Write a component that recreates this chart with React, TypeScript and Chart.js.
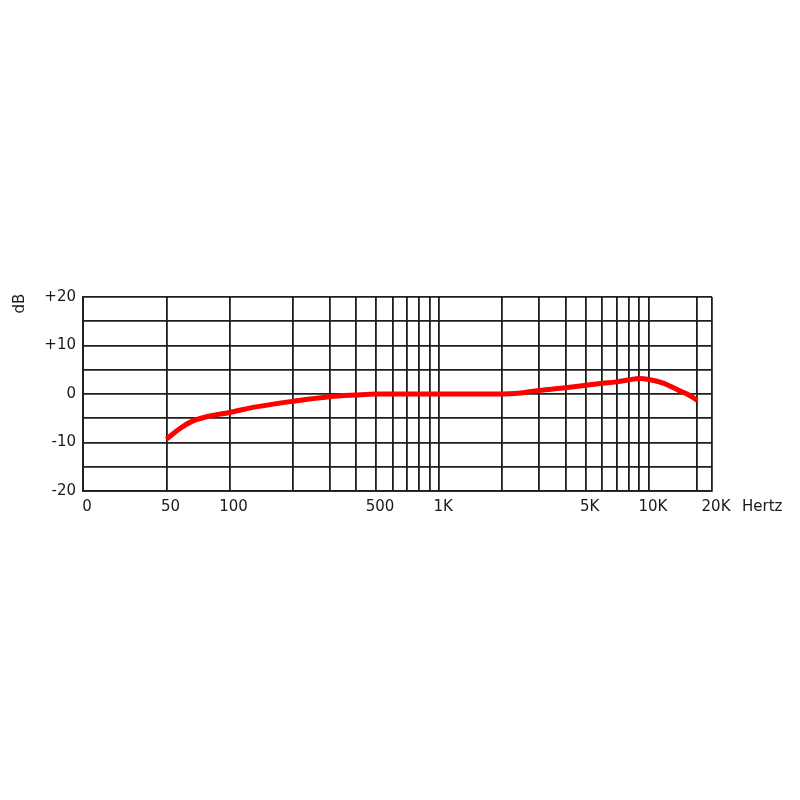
import React, { useEffect, useRef } from "react";
import { Chart, registerables } from "chart.js";

Chart.register(...registerables);

// Frequency response (Hz -> dB)
const freqs = [50, 58, 65, 76, 100, 136, 200, 300, 400, 500, 1000, 2000, 2300, 3000, 4000, 5000, 6000, 7000, 8000, 9000, 10000, 11800, 13800, 15500, 17000];
const dbValues = [-9.3, -7.1, -5.8, -4.8, -3.8, -2.6, -1.5, -0.55, -0.2, 0, 0, 0, 0.1, 0.75, 1.3, 1.8, 2.2, 2.5, 2.9, 3.2, 3.0, 2.2, 0.8, -0.2, -1.3];

// Vertical grid lines (Hz) and their labels
const xGridValues = [20, 50, 100, 200, 300, 400, 500, 600, 700, 800, 900, 1000, 2000, 3000, 4000, 5000, 6000, 7000, 8000, 9000, 10000, 17000, 20000];
const xLabelValues = [20, 50, 100, 500, 1000, 5000, 10000, 20000];
const xLabelTexts = ["0", "50", "100", "500", "1K", "5K", "10K", "20K"];

// Horizontal grid (dB)
const yLabelValues = [-20, -10, 0, 10, 20];
const yLabelTexts = ["-20", "-10", "0", "+10", "+20"];

const xUnit = "Hertz";
const yUnit = "dB";

const FONT = '"DejaVu Sans", sans-serif';
const TEXT = "#1a1a1a";
const GRID = "#1e1e1e";

export default function App() {
  const ref = useRef<HTMLCanvasElement | null>(null);

  useEffect(() => {
    if (!ref.current) return;
    const unitPlugin = {
      id: "units",
      afterDraw(chart: any) {
        const ctx = chart.ctx;
        const xs = chart.scales.x;
        ctx.save();
        ctx.fillStyle = TEXT;
        ctx.font = `15px ${FONT}`;
        ctx.textAlign = "left";
        ctx.textBaseline = "middle";
        ctx.fillText(xUnit, xs.getPixelForValue(20000) + 30, xs.top + 7 + 9);
        ctx.translate(20, 303.5);
        ctx.rotate(-Math.PI / 2);
        ctx.textAlign = "center";
        ctx.fillText(yUnit, 0, 0);
        ctx.restore();
      },
    };

    const chart = new Chart(ref.current, {
      type: "line",
      data: {
        datasets: [
          {
            data: freqs.map((f, i) => ({ x: f, y: dbValues[i] })),
            borderColor: "#ff0000",
            borderWidth: 5,
            pointRadius: 0,
            tension: 0.4,
            cubicInterpolationMode: "monotone",
            fill: false,
          },
        ],
      },
      options: {
        responsive: false,
        animation: false,
        devicePixelRatio: 1,
        layout: { padding: { left: 43, top: 297, right: 88, bottom: 279 } },
        plugins: { legend: { display: false }, tooltip: { enabled: false } },
        scales: {
          x: {
            type: "logarithmic",
            min: 20,
            max: 20000,
            afterBuildTicks: (scale: any) => {
              scale.ticks = xGridValues.map((v) => ({ value: v }));
            },
            afterFit: (scale: any) => {
              scale.height = 30;
            },
            grid: { color: GRID, lineWidth: 1.8, drawTicks: false },
            border: { color: GRID, width: 1.8 },
            ticks: {
              autoSkip: false,
              maxRotation: 0,
              padding: 7,
              labelOffset: 4,
              color: TEXT,
              font: { family: FONT, size: 15 },
              callback: (value: any) => {
                const i = xLabelValues.indexOf(Number(value));
                return i >= 0 ? xLabelTexts[i] : "";
              },
            },
          },
          y: {
            type: "linear",
            min: -20,
            max: 20,
            afterFit: (scale: any) => {
              scale.width = 40;
            },
            grid: { color: GRID, lineWidth: 1.8, drawTicks: false },
            border: { color: GRID, width: 1.8 },
            ticks: {
              stepSize: 5,
              padding: 7,
              color: TEXT,
              font: { family: FONT, size: 15 },
              callback: (value: any) => {
                const i = yLabelValues.indexOf(Number(value));
                return i >= 0 ? yLabelTexts[i] : "";
              },
            },
          },
        },
      },
      plugins: [unitPlugin],
    } as any);
    return () => chart.destroy();
  }, []);

  return (
    <div style={{ position: "absolute", left: 0, top: 0, width: 800, height: 800, background: "#fff" }}>
      <canvas ref={ref} width={800} height={800} style={{ width: 800, height: 800, display: "block" }} />
    </div>
  );
}
